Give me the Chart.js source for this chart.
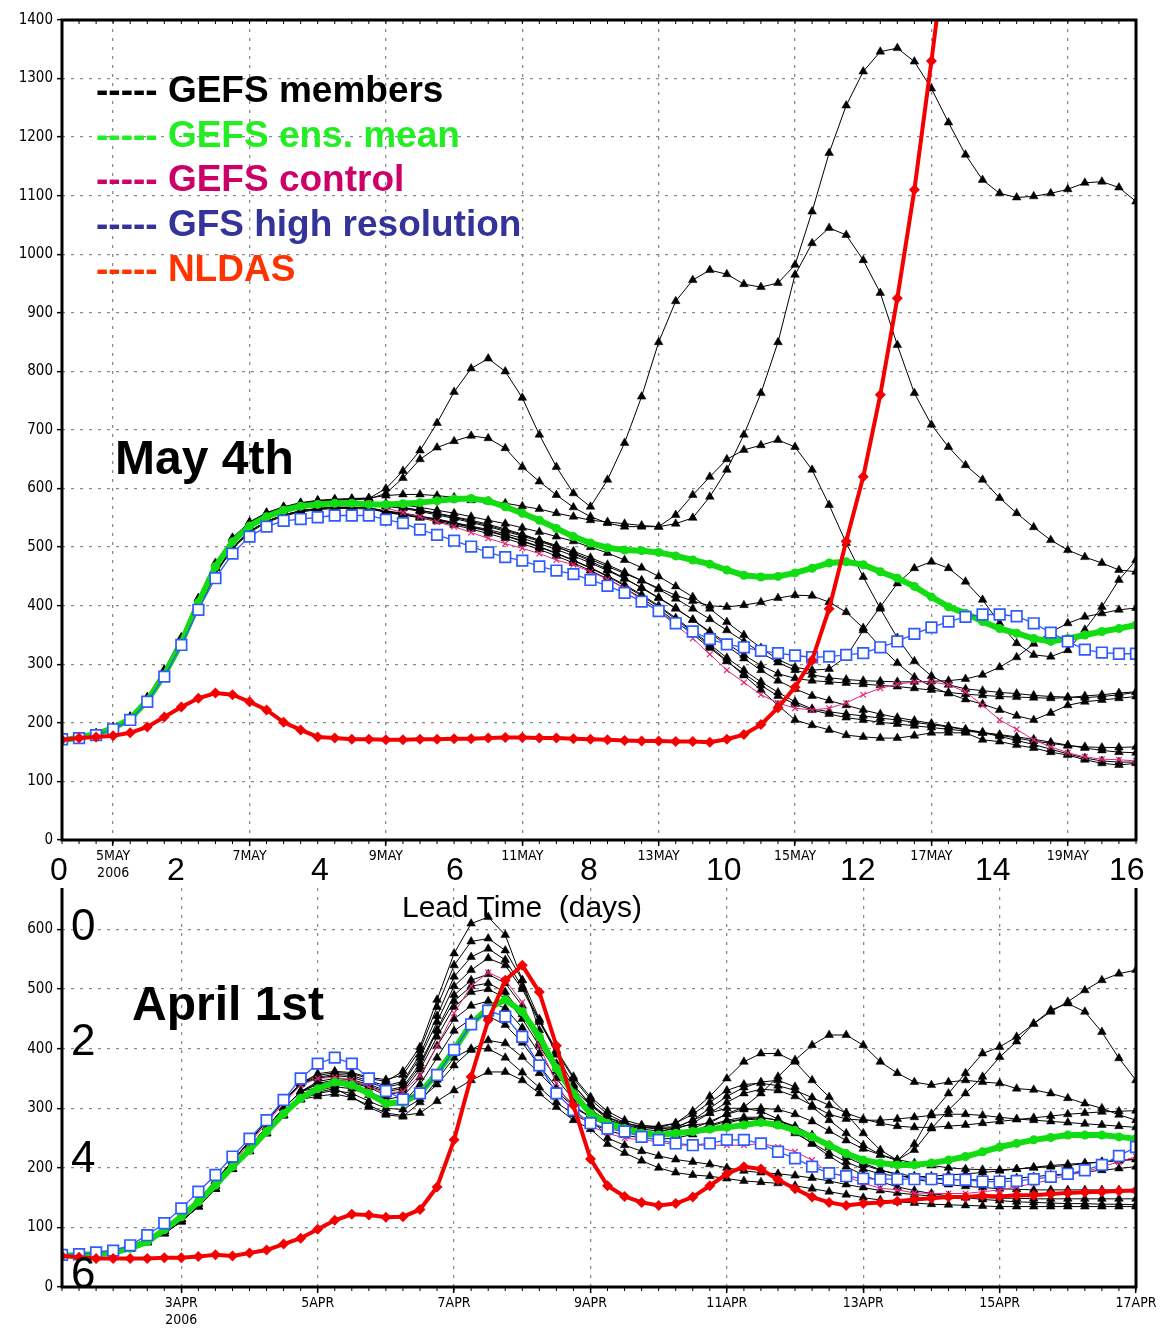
<!DOCTYPE html>
<html>
<head>
<meta charset="utf-8">
<script src="https://cdn.jsdelivr.net/npm/chart.js@4.4.1/dist/chart.umd.min.js"></script>
<style>
  body { margin: 0; background: #fff; width: 1166px; height: 1332px; position: relative; overflow: hidden; font-family: "Liberation Sans", Arial, sans-serif; }
  #wrapTop { position: absolute; left: 0; top: 0; width: 1166px; height: 888px; z-index: 2; }
  #wrapBot { position: absolute; left: 0; top: 850px; width: 1166px; height: 482px; z-index: 1; }
  .note { position: absolute; z-index: 3; white-space: pre; line-height: 1; color: #000; }
  .leg { font-size: 37px; font-weight: bold; left: 96px; }
  .big { font-size: 48px; font-weight: bold; }
  .lead { font-size: 32px; top: 853px; }
  .side { font-size: 44px; left: 71px; }
</style>
</head>
<body>
<div id="wrapTop"><canvas id="chartTop"></canvas></div>
<div id="wrapBot"><canvas id="chartBot"></canvas></div>

<div class="note leg" style="top:71px;color:#000">----- GEFS members</div>
<div class="note leg" style="top:116px;color:#22ee22">----- GEFS ens. mean</div>
<div class="note leg" style="top:160px;color:#cc0066">----- GEFS control</div>
<div class="note leg" style="top:205px;color:#333399">----- GFS high resolution</div>
<div class="note leg" style="top:250px;color:#ff3300">----- NLDAS</div>

<div class="note big" style="left:115px;top:434px">May 4th</div>
<div class="note big" style="left:132px;top:980px">April 1st</div>

<div class="note lead" style="left:50px">0</div>
<div class="note lead" style="left:167px">2</div>
<div class="note lead" style="left:311px">4</div>
<div class="note lead" style="left:446px">6</div>
<div class="note lead" style="left:580px">8</div>
<div class="note lead" style="left:706px">10</div>
<div class="note lead" style="left:840px">12</div>
<div class="note lead" style="left:975px">14</div>
<div class="note lead" style="left:1109px">16</div>
<div class="note" style="left:402px;top:892px;font-size:30px">Lead Time  (days)</div>

<div class="note side" style="top:903px">0</div>
<div class="note side" style="top:1018px">2</div>
<div class="note side" style="top:1135px">4</div>
<div class="note side" style="top:1251px">6</div>

<script>
// 6-hourly lead times (days) for both forecasts
const leadDays = Array.from({ length: 64 }, (_, i) => (i + 1) / 4);

const topTickDays = [1, 3, 5, 7, 9, 11, 13, 15];
const topTickNames = ["5MAY", "7MAY", "9MAY", "11MAY", "13MAY", "15MAY", "17MAY", "19MAY"];
const botTickDays = [2, 4, 6, 8, 10, 12, 14, 16];
const botTickNames = ["3APR", "5APR", "7APR", "9APR", "11APR", "13APR", "15APR", "17APR"];

// ---- May 4th forecast ----
const topNldas = [171,174,176,178,183,193,210,227,242,251,248,236,222,201,188,176,174,
  172,172,171,171,172,172,173,173,174,175,175,174,174,173,172,171,170,169,169,168,168,
  167,172,180,197,226,261,307,395,510,620,760,925,1110,1330,1560];
const topMean = [170,175,181,191,207,238,282,337,405,467,509,536,552,563,
  570,573,575,575,573,573,574,576,579,582,583,579,569,558,546,532,518,507,499,495,
  494,491,485,478,471,461,452,449,450,456,464,473,475,470,458,447,433,415,398,387,
  373,361,353,344,339,344,350,356,361,367];
const topControl = [170,175,180,190,206,238,282,337,405,465,508,535,
  552,564,571,575,576,576,575,567,559,552,543,535,525,515,506,498,489,478,470,458,
  445,430,410,390,367,344,317,290,269,248,234,225,222,225,234,248,259,266,270,270,
  265,253,230,205,189,171,159,149,142,138,137,135];
const topGfs = [172,174,179,189,205,236,279,333,393,447,489,518,535,545,548,551,554,554,554,547,541,530,521,511,501,
  491,483,477,467,460,454,444,434,422,407,391,370,356,343,334,329,323,319,315,
  312,313,316,319,329,339,352,363,373,381,385,385,382,370,354,339,325,320,318,318];
const topMembers = [
  [170,175,182,192,210,243,290,345,412,472,515,542,558,568,575,579,581,582,583,
   600,630,665,712,765,805,822,800,755,692,637,592,569,615,678,757,850,920,956,973,
   966,949,944,951,982,1073,1173,1254,1312,1346,1352,1329,1283,1225,1170,1127,1104,1097,1099,1104,1111,1122,1124,1114,1090],
  [170,175,182,192,209,242,289,344,411,471,514,541,557,567,574,578,580,581,582,
   592,618,650,670,681,690,686,669,637,612,589,568,552,541,535,535,535,555,589,620,
   650,666,674,683,671,632,572,507,449,395,345,305,280,265,258,255,252,250,247,245,244,243,245,248,252],
  [170,175,182,193,211,244,291,346,413,473,516,543,559,569,576,580,582,583,584,
   588,590,590,588,585,580,578,575,570,565,558,552,546,543,540,537,535,540,550,586,
   632,692,763,850,965,1019,1045,1033,990,934,845,763,709,671,640,615,584,558,534,512,495,483,473,461,458],
  [170,175,181,191,207,239,284,338,405,465,508,535,551,562,569,573,575,576,576,
   575,572,568,563,558,552,546,540,533,526,518,510,500,490,478,465,450,433,415,395,
   372,350,328,308,295,290,292,313,358,398,438,464,475,464,441,410,370,336,316,313,324,359,398,444,478],
  [170,175,181,190,206,238,283,337,404,464,507,534,550,561,568,572,574,575,575,
   570,566,561,555,549,542,535,527,519,510,500,490,479,467,455,443,430,418,408,400,
   398,401,406,413,418,417,406,389,362,330,302,278,262,250,240,232,222,212,205,217,230,236,239,242,245],
  [170,174,181,191,207,239,284,338,405,465,508,535,551,562,569,573,575,576,576,
   570,567,563,558,552,546,539,531,522,512,501,489,476,462,447,430,413,395,376,356,
   336,316,298,284,276,272,270,268,266,264,262,259,256,252,249,247,245,244,243,242,243,246,248,251,253],
  [170,174,180,189,204,234,278,330,396,456,499,527,544,555,562,566,568,568,567,
   562,558,553,548,542,536,530,523,515,506,496,485,473,460,446,431,414,396,376,354,
   332,310,290,272,258,246,238,230,222,215,209,204,199,194,189,184,179,174,169,165,161,159,158,158,159],
  [170,174,179,188,203,232,276,328,394,454,497,525,542,553,560,564,566,566,565,
   560,556,551,546,540,534,527,519,510,500,489,477,464,450,434,417,398,377,355,331,
   306,281,256,230,205,196,188,179,176,174,174,178,183,183,183,171,168,162,157,150,145,137,131,128,131],
  [170,174,180,189,204,234,278,330,396,456,499,527,544,555,562,566,568,568,567,
   561,557,552,547,541,535,528,520,511,501,490,478,465,451,436,419,400,379,357,334,
   311,290,270,252,236,224,219,215,212,208,205,201,197,193,188,183,177,170,163,155,147,140,135,133,133],
  [170,175,181,191,207,239,284,338,405,465,508,535,551,562,569,573,575,576,576,
   572,568,563,557,551,544,537,529,521,512,503,493,482,470,457,443,428,412,395,377,
   358,339,320,303,290,282,277,274,272,271,270,270,271,272,275,282,295,312,335,355,370,381,387,393,396],
  [170,174,180,189,204,234,278,330,396,456,499,527,544,555,562,566,568,568,567,
   559,555,550,544,538,531,523,515,506,496,485,473,460,446,430,413,394,373,351,328,
   305,284,264,246,232,222,215,209,205,201,198,195,192,189,186,183,180,176,172,167,162,157,153,150,149],
];

// ---- April 1st forecast ----
const botNldas = [52,50,48,48,48,48,49,49,51,54,52,57,62,72,82,97,112,122,121,117,118,130,
  168,247,353,448,515,540,495,405,305,215,
  170,152,142,137,140,151,170,190,202,198,180,165,151,142,137,140,142,144,147,149,
  151,151,153,152,154,154,156,158,159,160,161,162];
const botMean = [52,54,55,58,65,76,96,118,143,171,202,230,261,291,317,333,344,339,325,308,310,325,359,398,442,468,482,462,420,367,325,
  291,275,266,258,255,258,261,265,268,272,276,272,263,252,238,224,213,208,205,205,208,213,219,227,235,241,247,251,255,255,255,252,249];
const botControl = [52,54,56,60,68,80,96,117,143,174,208,241,275,308,
  339,350,352,348,336,326,328,355,405,460,505,528,515,478,405,342,297,270,
  258,250,247,244,238,238,238,238,238,241,235,227,213,191,186,174,166,163,158,157,
  157,157,160,163,168,174,180,188,193,202,210,219];
const botGfs = [54,55,58,61,70,87,107,132,160,188,219,249,280,314,350,375,385,375,350,329,
  315,325,356,398,441,464,454,420,372,325,297,275,266,261,252,247,241,238,241,247,
  247,241,227,216,202,191,186,182,181,181,181,181,180,180,177,177,178,181,185,190,196,205,220,235];
const botMembers = [
  [52,54,56,60,68,81,98,120,147,178,212,245,279,312,342,
   355,360,358,350,345,362,403,482,560,610,621,591,515,431,370,325,297,
   280,272,268,268,269,272,275,291,302,325,353,381,406,423,423,406,378,359,344,339,
   344,347,344,342,333,331,325,317,308,300,289,280],
  [52,54,56,60,68,81,98,120,147,178,212,245,279,312,342,
   352,357,355,346,338,345,390,455,521,554,568,549,504,448,398,353,319,
   295,280,272,268,275,295,320,350,378,392,392,378,347,319,291,258,230,213,230,266,
   297,325,353,386,412,442,462,479,498,515,526,532],
  [52,54,56,60,67,80,97,119,146,177,211,244,278,311,341,
   350,355,352,343,335,342,385,445,505,532,552,540,500,445,395,350,315,
   290,276,268,265,268,280,300,320,335,344,347,336,302,280,258,238,222,212,240,291,
   325,359,392,403,420,442,465,476,462,428,384,347],
  [52,54,55,59,66,78,94,114,140,170,204,236,268,300,328,
   345,350,348,340,330,336,375,432,490,515,525,510,472,420,375,338,308,
   285,272,265,262,265,275,292,310,325,332,330,320,305,290,282,280,280,282,285,288,
   290,290,288,285,282,280,278,276,274,272,270,268],
  [52,54,55,59,66,78,94,114,140,170,204,236,268,300,328,
   340,345,343,335,322,328,365,420,470,495,500,485,450,405,362,325,298,
   278,266,258,255,258,266,278,290,298,300,298,290,278,262,246,232,222,214,208,204,
   200,198,197,197,198,200,202,204,207,210,213,215],
  [52,54,55,59,66,78,94,114,140,170,204,236,268,300,328,
   335,340,338,328,315,320,352,405,450,472,480,468,435,392,350,315,290,
   272,262,256,253,255,262,272,280,285,285,280,268,252,235,218,205,196,190,186,183,
   181,180,180,181,183,185,188,190,193,196,199,202],
  [52,53,55,58,64,75,90,110,135,165,198,228,258,288,315,
   325,330,325,312,300,298,315,340,372,398,414,409,386,359,330,302,285,
   250,238,228,220,214,210,206,200,195,192,190,187,183,178,172,167,162,158,155,153,
   152,151,150,149,149,148,148,148,148,148,148,148],
  [52,53,55,58,64,75,90,110,135,165,198,228,258,288,315,
   320,324,318,305,292,288,292,312,330,347,361,361,347,325,302,280,265,
   240,225,212,200,192,188,186,182,178,176,174,170,165,160,155,150,146,143,141,139,
   138,137,136,135,135,135,135,135,135,135,135,135],
  [52,54,55,59,66,78,94,114,140,170,204,236,268,300,328,
   342,347,345,337,328,333,370,430,480,505,510,495,458,410,368,332,305,
   282,270,262,258,258,262,270,278,282,280,272,258,242,225,210,198,190,186,185,186,
   188,190,192,195,198,201,204,206,208,210,212,214],
  [52,53,55,58,64,75,90,110,135,165,198,228,258,288,315,
   330,336,333,322,308,310,340,385,430,450,455,440,410,372,335,305,285,
   270,262,258,260,268,280,292,300,300,295,282,262,240,220,202,188,177,168,162,157,
   153,150,147,145,143,142,141,140,140,139,139,138],
  [52,53,55,58,64,75,90,110,135,165,198,228,258,288,315,
   327,333,319,302,289,286,310,348,385,400,400,385,360,335,310,290,275,
   263,255,250,248,250,256,265,275,282,284,280,270,255,238,222,208,197,188,181,176,
   172,169,167,165,164,163,163,163,163,163,163,163],
  [52,54,56,60,68,81,98,120,147,178,212,245,279,312,342,
   358,362,360,352,348,356,398,470,540,580,585,565,515,450,390,340,305,
   285,275,270,270,275,290,310,330,340,342,338,330,318,305,292,282,275,270,268,268,
   270,272,275,278,281,284,287,290,292,294,295,296],
];

const tickFont = "'DejaVu Sans Condensed', 'Liberation Sans Narrow', 'Liberation Sans', sans-serif";

function memberLine(data) {
  return {
    label: "GEFS members",
    data: data,
    borderColor: "#000",
    backgroundColor: "#000",
    borderWidth: 1,
    pointStyle: "triangle",
    pointRadius: 5,
    pointBorderWidth: 0.5,
  };
}

function buildSets(nldas, gfs, mean, control, members) {
  return [
    { label: "NLDAS", data: nldas, borderColor: "#f50000", backgroundColor: "#f50000",
      borderWidth: 4, pointStyle: "rectRot", pointRadius: 5.5, pointBorderWidth: 0 },
    { label: "GFS high resolution", data: gfs, borderColor: "#2f5bff", backgroundColor: "#fff",
      borderWidth: 1.3, pointStyle: "rect", pointRadius: 7.5, pointBorderWidth: 1.7 },
    { label: "GEFS ens. mean", data: mean, borderColor: "#12dc12", backgroundColor: "#12dc12",
      borderWidth: 6, pointStyle: "circle", pointRadius: 4.5, pointBorderWidth: 0 },
    { label: "GEFS control", data: control, borderColor: "#e2287c", backgroundColor: "#e2287c",
      borderWidth: 1, pointStyle: "crossRot", pointRadius: 4, pointBorderWidth: 1.2 },
    ...members.map(memberLine),
  ];
}

// white page, heavy frame and the small 6-hourly ticks on the time axis
const framePlugin = {
  id: "frame",
  beforeDraw(chart) {
    const c = chart.ctx;
    c.save();
    c.fillStyle = "#fff";
    c.fillRect(0, 0, chart.width, chart.height);
    c.restore();
  },
  afterDatasetsDraw(chart) {
    const { ctx, chartArea: a, scales } = chart;
    ctx.save();
    ctx.strokeStyle = "#000";
    ctx.lineWidth = 1;
    ctx.beginPath();
    leadDays.forEach((d) => {
      const px = scales.x.getPixelForValue(d);
      ctx.moveTo(px, a.bottom);
      ctx.lineTo(px, a.bottom + 4);
      ctx.moveTo(px, a.top);
      ctx.lineTo(px, a.top + 4);
    });
    ctx.stroke();
    ctx.lineWidth = 3;
    ctx.strokeRect(a.left, a.top, a.right - a.left, a.bottom - a.top);
    ctx.restore();
  },
};

function chartOptions(yMax, tickDays, tickNames, axisHeight) {
  return {
    animation: false,
    responsive: true,
    maintainAspectRatio: false,
    layout: { padding: { left: 0, right: 30, top: 20, bottom: 0 } },
    plugins: { legend: { display: false }, tooltip: { enabled: false } },
    scales: {
      x: {
        type: "linear",
        min: 0.25,
        max: 16,
        afterBuildTicks: (s) => { s.ticks = tickDays.map((v) => ({ value: v })); },
        afterFit: (s) => { s.height = axisHeight; },
        ticks: {
          autoSkip: false,
          maxRotation: 0,
          padding: 2,
          color: "#000",
          font: { family: tickFont, size: 14 },
          callback: (v, i) => (i === 0 ? [tickNames[i], "2006"] : tickNames[i]),
        },
        grid: { color: "#8a8a8a", lineWidth: 1.3, tickColor: "#000", tickLength: 6, tickWidth: 1.5 },
        border: { display: false, dash: [3, 6] },
      },
      y: {
        min: 0,
        max: yMax,
        afterFit: (s) => { s.width = 62; },
        ticks: { stepSize: 100, padding: 4, color: "#000", font: { family: tickFont, size: 15 },
          callback: (v) => String(v) },
        grid: { color: "#8a8a8a", lineWidth: 1.3, tickColor: "#000", tickLength: 5, tickWidth: 1.5 },
        border: { display: false, dash: [3, 6] },
      },
    },
  };
}

let topChart = new Chart(document.getElementById("chartTop"), {
  type: "line",
  data: { labels: leadDays, datasets: buildSets(topNldas, topGfs, topMean, topControl, topMembers) },
  options: chartOptions(1400, topTickDays, topTickNames, 48),
  plugins: [framePlugin],
});

let botChart = new Chart(document.getElementById("chartBot"), {
  type: "line",
  data: { labels: leadDays, datasets: buildSets(botNldas, botGfs, botMean, botControl, botMembers) },
  options: chartOptions(700, botTickDays, botTickNames, 45),
  plugins: [framePlugin],
});
</script>
</body>
</html>
